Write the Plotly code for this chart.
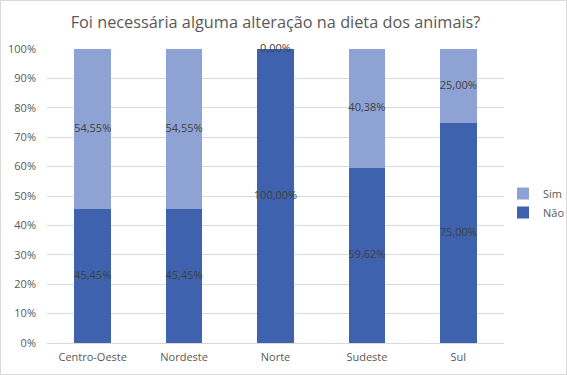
import plotly.graph_objects as go

categories = ["Centro-Oeste", "Nordeste", "Norte", "Sudeste", "Sul"]
nao = [45.45, 45.45, 100.00, 59.62, 75.00]
sim = [54.55, 54.55, 0.00, 40.38, 25.00]
y_ticks = [0, 10, 20, 30, 40, 50, 60, 70, 80, 90, 100]
y_tick_labels = [f"{v}%" for v in y_ticks]

def fmt(v):
    return f"{v:.2f}".replace(".", ",") + "%"

C_NAO = "#3E62AD"
C_SIM = "#8EA3D3"
FONT = "Open Sans"
TXT = "#595959"
LBL = "#404040"

fig = go.Figure()
fig.add_trace(go.Bar(name="Não", x=categories, y=nao, marker_color=C_NAO, width=0.4,
                     marker_line_width=0, hoverinfo="skip"))
fig.add_trace(go.Bar(name="Sim", x=categories, y=sim, marker_color=C_SIM, width=0.4,
                     marker_line_width=0, hoverinfo="skip"))

# data labels at the middle of each segment
lab_x = categories + categories
lab_y = [n / 2 for n in nao] + [n + s / 2 for n, s in zip(nao, sim)]
lab_t = [fmt(v) for v in nao] + [fmt(v) for v in sim]
fig.add_trace(go.Scatter(x=lab_x, y=lab_y, text=lab_t, mode="text",
                         textfont=dict(family=FONT, size=11, color=LBL),
                         showlegend=False, hoverinfo="skip", cliponaxis=False))

L, R, T, B = 47, 63, 49, 32
W, H = 567, 375
pw = W - L - R
ph = H - T - B

fig.update_layout(
    width=W, height=H,
    barmode="stack",
    margin=dict(l=L, r=R, t=T, b=B, autoexpand=False),
    paper_bgcolor="white", plot_bgcolor="white",
    font=dict(family=FONT, color=TXT, size=11),
    title=dict(text="Foi necessária alguma alteração na dieta dos animais?",
               xref="paper", x=0.5, xanchor="center",
               yref="container", y=1 - 22 / H, yanchor="middle",
               font=dict(family=FONT, size=16.3, color=TXT)),
    legend=dict(x=(503 - L) / pw, xanchor="left", y=(H - B - 203) / ph, yanchor="middle",
                traceorder="reversed", font=dict(family=FONT, size=11, color=TXT),
                itemwidth=30, bgcolor="rgba(0,0,0,0)", tracegroupgap=0),
    xaxis=dict(showgrid=False, showline=True, linecolor="#D9D9D9", ticks="",
               automargin=False, ticklabelstandoff=4,
               tickfont=dict(family=FONT, size=11, color=TXT)),
    yaxis=dict(range=[0, 100], tickvals=y_ticks, ticktext=y_tick_labels,
               showgrid=True, gridcolor="#D9D9D9", zeroline=False, ticks="",
               automargin=False, showline=False,
               tickfont=dict(family=FONT, size=11, color=TXT),
               ticklabelstandoff=10),
    shapes=[dict(type="rect", xref="paper", yref="paper",
                 x0=-(L - 0.5) / pw, x1=(W - L - 0.5) / pw,
                 y0=-(B - 0.5) / ph, y1=(H - B - 0.5) / ph,
                 line=dict(color="#D9D9D9", width=1), layer="below")],
)

fig.write_html("out.html", config={"displayModeBar": False},
               post_script="document.body.style.margin='0';document.body.style.overflow='hidden';")
